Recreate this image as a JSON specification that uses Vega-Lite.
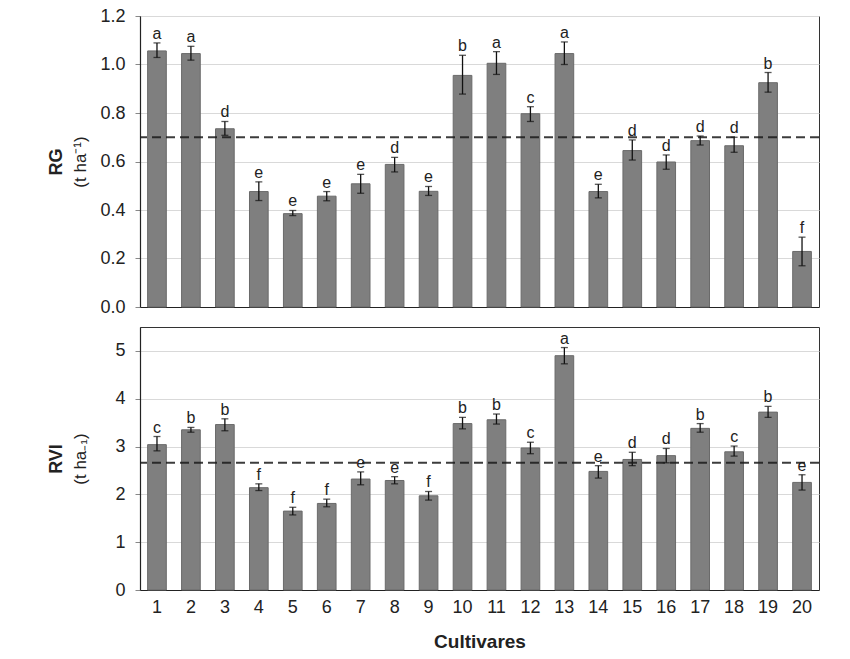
{
  "$schema": "https://vega.github.io/schema/vega-lite/v6.json",
  "padding": {"left": 46, "top": 6, "right": 5, "bottom": 5},
  "spacing": 9,
  "config": {
    "font": "Liberation Sans",
    "view": {"stroke": "#333333", "strokeWidth": 1},
    "axis": {"labelFont": "Liberation Sans", "labelFontSize": 18, "labelColor": "#222222", "titleFont": "Liberation Sans", "titleColor": "#222222", "gridColor": "#d9d9d9", "gridWidth": 1.2, "tickColor": "#888888", "domainColor": "#222222", "domainWidth": 1.2}
  },
  "datasets": {
    "cult": [
      {"c": 1, "rg": 1.056, "rg_lo": 1.029, "rg_hi": 1.089, "rg_l": "a", "rvi": 3.04, "rvi_lo": 2.91, "rvi_hi": 3.21, "rvi_l": "c"},
      {"c": 2, "rg": 1.045, "rg_lo": 1.018, "rg_hi": 1.075, "rg_l": "a", "rvi": 3.35, "rvi_lo": 3.30, "rvi_hi": 3.40, "rvi_l": "b"},
      {"c": 3, "rg": 0.735, "rg_lo": 0.708, "rg_hi": 0.765, "rg_l": "d", "rvi": 3.46, "rvi_lo": 3.33, "rvi_hi": 3.58, "rvi_l": "b"},
      {"c": 4, "rg": 0.476, "rg_lo": 0.439, "rg_hi": 0.516, "rg_l": "e", "rvi": 2.14, "rvi_lo": 2.08, "rvi_hi": 2.22, "rvi_l": "f"},
      {"c": 5, "rg": 0.385, "rg_lo": 0.377, "rg_hi": 0.398, "rg_l": "e", "rvi": 1.65, "rvi_lo": 1.57, "rvi_hi": 1.73, "rvi_l": "f"},
      {"c": 6, "rg": 0.457, "rg_lo": 0.438, "rg_hi": 0.476, "rg_l": "e", "rvi": 1.81, "rvi_lo": 1.74, "rvi_hi": 1.90, "rvi_l": "f"},
      {"c": 7, "rg": 0.508, "rg_lo": 0.469, "rg_hi": 0.547, "rg_l": "e", "rvi": 2.32, "rvi_lo": 2.20, "rvi_hi": 2.47, "rvi_l": "e"},
      {"c": 8, "rg": 0.588, "rg_lo": 0.557, "rg_hi": 0.617, "rg_l": "d", "rvi": 2.29, "rvi_lo": 2.22, "rvi_hi": 2.37, "rvi_l": "e"},
      {"c": 9, "rg": 0.477, "rg_lo": 0.460, "rg_hi": 0.497, "rg_l": "e", "rvi": 1.97, "rvi_lo": 1.88, "rvi_hi": 2.06, "rvi_l": "f"},
      {"c": 10, "rg": 0.955, "rg_lo": 0.878, "rg_hi": 1.038, "rg_l": "b", "rvi": 3.48, "rvi_lo": 3.37, "rvi_hi": 3.61, "rvi_l": "b"},
      {"c": 11, "rg": 1.005, "rg_lo": 0.959, "rg_hi": 1.053, "rg_l": "a", "rvi": 3.56, "rvi_lo": 3.47, "rvi_hi": 3.68, "rvi_l": "b"},
      {"c": 12, "rg": 0.797, "rg_lo": 0.765, "rg_hi": 0.826, "rg_l": "c", "rvi": 2.97, "rvi_lo": 2.85, "rvi_hi": 3.09, "rvi_l": "c"},
      {"c": 13, "rg": 1.045, "rg_lo": 1.000, "rg_hi": 1.093, "rg_l": "a", "rvi": 4.90, "rvi_lo": 4.73, "rvi_hi": 5.07, "rvi_l": "a"},
      {"c": 14, "rg": 0.476, "rg_lo": 0.450, "rg_hi": 0.506, "rg_l": "e", "rvi": 2.48, "rvi_lo": 2.34, "rvi_hi": 2.60, "rvi_l": "e"},
      {"c": 15, "rg": 0.645, "rg_lo": 0.606, "rg_hi": 0.689, "rg_l": "d", "rvi": 2.73, "rvi_lo": 2.60, "rvi_hi": 2.88, "rvi_l": "d"},
      {"c": 16, "rg": 0.598, "rg_lo": 0.568, "rg_hi": 0.627, "rg_l": "d", "rvi": 2.81, "rvi_lo": 2.66, "rvi_hi": 2.96, "rvi_l": "d"},
      {"c": 17, "rg": 0.686, "rg_lo": 0.668, "rg_hi": 0.705, "rg_l": "d", "rvi": 3.38, "rvi_lo": 3.30, "rvi_hi": 3.48, "rvi_l": "b"},
      {"c": 18, "rg": 0.665, "rg_lo": 0.638, "rg_hi": 0.700, "rg_l": "d", "rvi": 2.89, "rvi_lo": 2.80, "rvi_hi": 3.01, "rvi_l": "c"},
      {"c": 19, "rg": 0.925, "rg_lo": 0.886, "rg_hi": 0.967, "rg_l": "b", "rvi": 3.72, "rvi_lo": 3.61, "rvi_hi": 3.84, "rvi_l": "b"},
      {"c": 20, "rg": 0.229, "rg_lo": 0.170, "rg_hi": 0.288, "rg_l": "f", "rvi": 2.25, "rvi_lo": 2.09, "rvi_hi": 2.41, "rvi_l": "e"}
    ]
  },
  "vconcat": [
    {
      "width": 679,
      "height": 291,
      "data": {"name": "cult"},
      "resolve": {"axis": {"y": "independent"}},
      "layer": [
        {
          "mark": {"type": "bar", "color": "#7f7f7f", "stroke": "#6a6a6a", "strokeWidth": 1},
          "encoding": {
            "x": {"field": "c", "type": "ordinal", "scale": {"paddingInner": 0.45, "paddingOuter": 0.225}, "axis": {"labels": false, "ticks": false, "title": null, "domain": true}},
            "y": {"field": "rg", "type": "quantitative", "scale": {"domain": [0, 1.2], "nice": false}, "axis": {"orient": "left", "values": [0, 0.2, 0.4, 0.6, 0.8, 1.0, 1.2], "format": ".1f", "tickSize": 5, "labelPadding": 10, "title": "(t ha⁻¹)", "titleFontWeight": "normal", "titleFontSize": 17, "titlePadding": 10, "grid": true}}
          }
        },
        {
          "mark": {"type": "errorbar", "ticks": {"size": 7, "thickness": 1.3, "color": "#111111"}, "rule": {"strokeWidth": 1.3, "color": "#111111"}},
          "encoding": {
            "x": {"field": "c", "type": "ordinal"},
            "y": {"field": "rg_lo", "type": "quantitative", "axis": null},
            "y2": {"field": "rg_hi"}
          }
        },
        {
          "mark": {"type": "text", "fontSize": 16, "color": "#222222", "baseline": "alphabetic", "dy": -4},
          "encoding": {
            "x": {"field": "c", "type": "ordinal"},
            "y": {"field": "rg_hi", "type": "quantitative", "axis": null},
            "text": {"field": "rg_l"}
          }
        },
        {
          "data": {"values": [{"ref": 0.70}]},
          "mark": {"type": "rule", "color": "#1a1a1a", "strokeWidth": 2, "strokeDash": [9, 5], "opacity": 0.85},
          "encoding": {
            "y": {"field": "ref", "type": "quantitative", "axis": {"orient": "left", "title": "RG", "titleFontWeight": "bold", "titleFontSize": 18, "titlePadding": 75, "labels": false, "ticks": false, "domain": false, "grid": false}}
          }
        }
      ]
    },
    {
      "width": 679,
      "height": 263,
      "data": {"name": "cult"},
      "resolve": {"axis": {"y": "independent"}},
      "layer": [
        {
          "mark": {"type": "bar", "color": "#7f7f7f", "stroke": "#6a6a6a", "strokeWidth": 1},
          "encoding": {
            "x": {"field": "c", "type": "ordinal", "scale": {"paddingInner": 0.45, "paddingOuter": 0.225}, "axis": {"labelAngle": 0, "ticks": false, "labelPadding": 8, "title": "Cultivares", "titleFontWeight": "bold", "titleFontSize": 19, "titlePadding": 16}},
            "y": {"field": "rvi", "type": "quantitative", "scale": {"domain": [0, 5.5], "nice": false}, "axis": {"orient": "left", "values": [0, 1, 2, 3, 4, 5], "tickSize": 5, "labelPadding": 10, "title": "(t ha₋₁)", "titleFontWeight": "normal", "titleFontSize": 17, "titlePadding": 25, "grid": true}}
          }
        },
        {
          "mark": {"type": "errorbar", "ticks": {"size": 7, "thickness": 1.3, "color": "#111111"}, "rule": {"strokeWidth": 1.3, "color": "#111111"}},
          "encoding": {
            "x": {"field": "c", "type": "ordinal"},
            "y": {"field": "rvi_lo", "type": "quantitative", "axis": null},
            "y2": {"field": "rvi_hi"}
          }
        },
        {
          "mark": {"type": "text", "fontSize": 16, "color": "#222222", "baseline": "alphabetic", "dy": -4},
          "encoding": {
            "x": {"field": "c", "type": "ordinal"},
            "y": {"field": "rvi_hi", "type": "quantitative", "axis": null},
            "text": {"field": "rvi_l"}
          }
        },
        {
          "data": {"values": [{"ref": 2.66}]},
          "mark": {"type": "rule", "color": "#1a1a1a", "strokeWidth": 2, "strokeDash": [9, 5], "opacity": 0.85},
          "encoding": {
            "y": {"field": "ref", "type": "quantitative", "axis": {"orient": "left", "title": "RVI", "titleFontWeight": "bold", "titleFontSize": 18, "titlePadding": 75, "labels": false, "ticks": false, "domain": false, "grid": false}}
          }
        }
      ]
    }
  ]
}
